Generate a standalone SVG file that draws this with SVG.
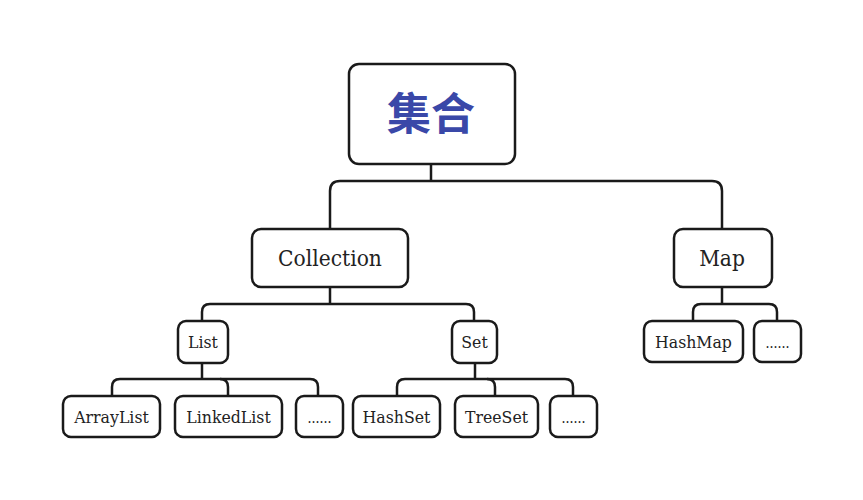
<svg xmlns="http://www.w3.org/2000/svg" width="863" height="500" viewBox="0 0 863 500">
<style>
.box{fill:#fff;stroke:#1a1a1a;stroke-width:2.5}
.ln{fill:none;stroke:#1a1a1a;stroke-width:2.5}
.t{font-family:"DejaVu Serif Condensed","DejaVu Serif","Liberation Serif",serif;font-stretch:condensed;fill:#222;text-anchor:middle}
.s{font-size:17.5px}
.m{font-size:22.5px}
.d{font-size:14px}
.root{font-family:"Noto Sans CJK SC","Noto Sans",sans-serif;font-weight:bold;font-size:44px;fill:#3a48a8;text-anchor:middle}
</style>
<rect width="863" height="500" fill="#fff"/>
<g id="connectors">
<path class="ln" d="M431,164 V181"/>
<path class="ln" d="M330,229 V191 Q330,181 340,181 H712 Q722,181 722,191 V229"/>
<path class="ln" d="M330,287 V304"/>
<path class="ln" d="M202,321 V312 Q202,304 210,304 H466 Q474,304 474,312 V321"/>
<path class="ln" d="M722,287 V304"/>
<path class="ln" d="M693,321 V312 Q693,304 701,304 H769 Q777,304 777,312 V321"/>
<path class="ln" d="M202,363 V379"/>
<path class="ln" d="M112,396 V387 Q112,379 120,379 H310 Q318,379 318,387 V396"/>
<path class="ln" d="M220,379 Q228,379 228,387 V396"/>
<path class="ln" d="M475,363 V379"/>
<path class="ln" d="M397,396 V387 Q397,379 405,379 H565 Q573,379 573,387 V396"/>
<path class="ln" d="M487,379 Q495,379 495,387 V396"/>
</g>
<g id="root"><rect class="box" x="349" y="64" width="166" height="100" rx="10"/><text class="root" x="431" y="130">集合</text></g>
<g id="collection"><rect class="box" x="252" y="229" width="156" height="58" rx="9"/><text class="t m" x="330" y="266">Collection</text></g>
<g id="map"><rect class="box" x="674" y="229" width="98" height="58" rx="9"/><text class="t m" x="722" y="266">Map</text></g>
<g id="list"><rect class="box" x="178" y="321" width="50" height="42" rx="8"/><text class="t s" x="203" y="348">List</text></g>
<g id="set"><rect class="box" x="452" y="321" width="45" height="42" rx="8"/><text class="t s" x="474.5" y="348">Set</text></g>
<g id="hashmap"><rect class="box" x="644" y="321" width="99" height="41" rx="8"/><text class="t s" x="693.5" y="348">HashMap</text></g>
<g id="mapmore"><rect class="box" x="754" y="321" width="47" height="41" rx="8"/><text class="t d" x="777.5" y="348">......</text></g>
<g id="arraylist"><rect class="box" x="63" y="396" width="97" height="41" rx="8"/><text class="t s" x="111.5" y="423">ArrayList</text></g>
<g id="linkedlist"><rect class="box" x="175" y="396" width="107" height="41" rx="8"/><text class="t s" x="228.5" y="423">LinkedList</text></g>
<g id="listmore"><rect class="box" x="296" y="396" width="47" height="41" rx="8"/><text class="t d" x="319.5" y="423">......</text></g>
<g id="hashset"><rect class="box" x="353" y="396" width="87" height="41" rx="8"/><text class="t s" x="396.5" y="423">HashSet</text></g>
<g id="treeset"><rect class="box" x="455" y="396" width="83" height="41" rx="8"/><text class="t s" x="496.5" y="423">TreeSet</text></g>
<g id="setmore"><rect class="box" x="550" y="396" width="47" height="41" rx="8"/><text class="t d" x="573.5" y="423">......</text></g>
</svg>
